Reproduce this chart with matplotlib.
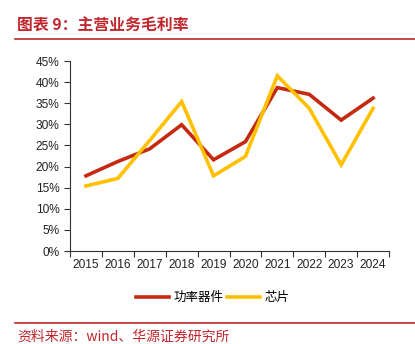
import matplotlib.pyplot as plt
from matplotlib.lines import Line2D

plt.rcParams['font.family'] = ['Liberation Sans', 'Noto Sans CJK SC', 'DejaVu Sans']

years = ['2015', '2016', '2017', '2018', '2019', '2020', '2021', '2022', '2023', '2024']
power_dev = [17.8, 21.2, 24.2, 29.9, 21.6, 25.9, 38.7, 37.1, 31.0, 36.2]
chips = [15.4, 17.2, 26.2, 35.4, 17.8, 22.4, 41.5, 33.8, 20.4, 33.8]
yticks = [0, 5, 10, 15, 20, 25, 30, 35, 40, 45]

red = '#C52A10'
yellow = '#FFC000'
title_red = '#C0272D'

fig = plt.figure(figsize=(4.15, 3.44), dpi=100)
ax = fig.add_axes([70 / 415, 93 / 344, 319 / 415, 190 / 344])

x = list(range(len(years)))
ax.plot(x, power_dev, color=red, lw=2.6, solid_joinstyle='miter')
ax.plot(x, chips, color=yellow, lw=2.6, solid_joinstyle='miter')

ax.set_xlim(-0.5, len(years) - 0.5)
ax.set_ylim(0, 45)
ax.set_yticks(yticks)
ax.set_yticklabels([f'{v}%' for v in yticks])
# ticks between categories, labels centred
ax.set_xticks([i - 0.5 for i in range(len(years) + 1)])
ax.set_xticklabels([])
ax.set_xticks(x, minor=True)
ax.set_xticklabels(years, minor=True)
ax.tick_params(axis='x', which='minor', length=0, pad=6)
ax.tick_params(axis='x', which='major', length=4, direction='out', color='#333333')
ax.tick_params(axis='y', length=4, direction='out', color='#333333')
ax.tick_params(which='both', labelsize=8.6, labelcolor='#222222')
for s in ['top', 'right']:
    ax.spines[s].set_visible(False)
for s in ['left', 'bottom']:
    ax.spines[s].set_color('#333333')
    ax.spines[s].set_linewidth(0.8)

handles = [Line2D([], [], color=red, lw=2.6), Line2D([], [], color=yellow, lw=2.6)]
fig.legend(handles, ['功率器件', '芯片'], loc='center', bbox_to_anchor=(213 / 415, 1 - 298 / 344),
           ncol=2, frameon=False, fontsize=9, handlelength=2.6, handletextpad=0.4, columnspacing=0.3)

# header and footer
fig.text(17 / 415, 1 - 26 / 344, '图表 9：主营业务毛利率', color=title_red, fontsize=11.4,
         fontweight='bold', va='center', family=['Noto Sans CJK SC', 'DejaVu Sans'])
fig.add_artist(Line2D([15 / 415, 1], [1 - 39 / 344, 1 - 39 / 344], color=title_red, lw=1.2))
fig.add_artist(Line2D([15 / 415, 1], [1 - 323 / 344, 1 - 323 / 344], color=title_red, lw=1.2))
fig.text(17 / 415, 1 - 337 / 344, '资料来源：wind、华源证券研究所', color=title_red, fontsize=10,
         va='center', family=['Noto Sans CJK SC', 'DejaVu Sans'])

fig.savefig('out.png', dpi=100)
